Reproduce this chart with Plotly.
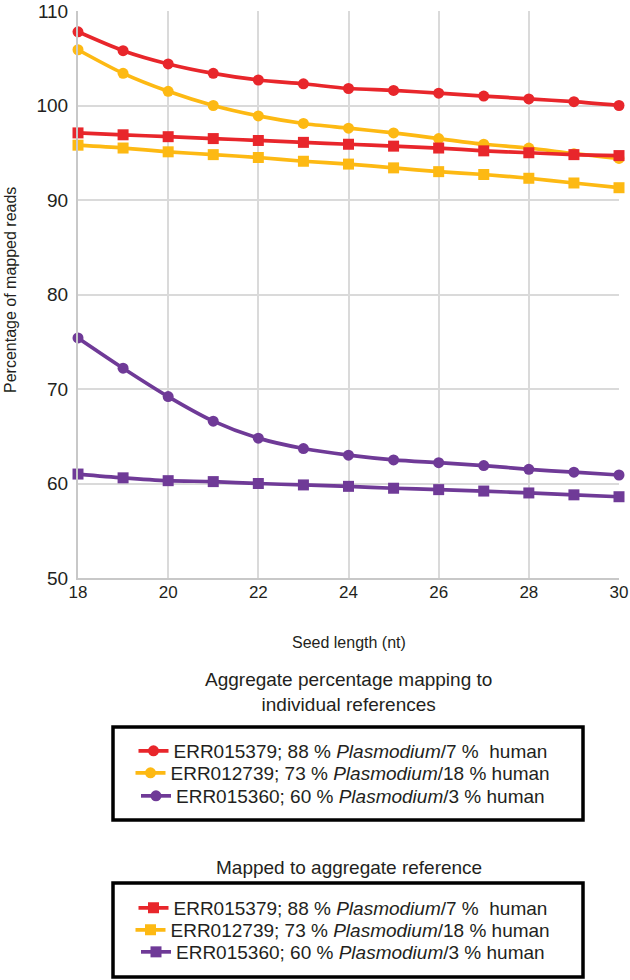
import plotly.graph_objects as go

seed = [18, 19, 20, 21, 22, 23, 24, 25, 26, 27, 28, 29, 30]

ind_red = [107.8, 105.8, 104.4, 103.4, 102.7, 102.3, 101.8, 101.6, 101.3, 101.0, 100.7, 100.4, 100.0]
ind_yellow = [105.9, 103.4, 101.5, 100.0, 98.9, 98.1, 97.6, 97.1, 96.5, 95.9, 95.5, 94.9, 94.4]
ind_purple = [75.4, 72.2, 69.2, 66.6, 64.8, 63.7, 63.0, 62.5, 62.2, 61.9, 61.5, 61.2, 60.9]

agg_red = [97.1, 96.9, 96.7, 96.5, 96.3, 96.1, 95.9, 95.7, 95.5, 95.2, 95.0, 94.8, 94.7]
agg_yellow = [95.8, 95.5, 95.1, 94.8, 94.5, 94.1, 93.8, 93.4, 93.0, 92.7, 92.3, 91.8, 91.3]
agg_purple = [61.0, 60.6, 60.3, 60.2, 60.0, 59.85, 59.7, 59.5, 59.35, 59.2, 59.0, 58.8, 58.6]

labels = [
    "ERR015379; 88 % <i>Plasmodium</i>/7 %\u00a0 human",
    "ERR012739; 73 % <i>Plasmodium</i>/18 % human",
    "ERR015360; 60 % <i>Plasmodium</i>/3 % human",
]

x_ticks = [18, 20, 22, 24, 26, 28, 30]
y_ticks = [50, 60, 70, 80, 90, 100, 110]

RED = "#E8262B"
YEL = "#FDB913"
PUR = "#6F3A97"
TXT = "#231F20"
FONT = "Liberation Sans, Arial, Helvetica, sans-serif"

L, R, T, B = 78, 11, 11, 402
W, H = 630, 980
pw = W - L - R
ph = H - T - B


def py(px):
    return (H - B - px) / ph


def pxx(px):
    return (px - L) / pw


fig = go.Figure()

legend_ids = ["legend", "legend2", "legend3", "legend4", "legend5", "legend6"]
row_y = [751, 773, 796, 908, 930, 952]

k = 0
for group, sym in [((ind_red, ind_yellow, ind_purple), "circle"),
                   ((agg_red, agg_yellow, agg_purple), "square")]:
    for vals, col, lab in zip(group, [RED, YEL, PUR], labels):
        fig.add_trace(go.Scatter(
            x=seed, y=vals, name=lab, mode="lines+markers",
            line=dict(color=col, width=3.7, shape="spline", smoothing=0.8),
            marker=dict(symbol=sym, size=11, color=col),
            cliponaxis=False, legend=legend_ids[k],
        ))
        k += 1

legend_common = dict(
    bgcolor="rgba(0,0,0,0)", borderwidth=0,
    font=dict(family=FONT, size=19, color=TXT),
    xanchor="center", x=pxx(343), yanchor="middle",
)

legend_layout = {lid: dict(y=py(yy), **legend_common) for lid, yy in zip(legend_ids, row_y)}

fig.update_layout(
    width=W, height=H,
    margin=dict(l=L, r=R, t=T, b=B, autoexpand=False),
    paper_bgcolor="white", plot_bgcolor="white",
    font=dict(family=FONT, color=TXT),
    showlegend=True,
    xaxis=dict(
        range=[18, 30], tickvals=x_ticks, ticktext=[str(v) for v in x_ticks],
        showgrid=True, gridcolor="#DADADA", gridwidth=1.5,
        showline=True, linecolor="#C8C8C8", linewidth=2,
        zeroline=False, ticks="", ticklabelstandoff=-2,
        tickfont=dict(family=FONT, size=17, color=TXT),
    ),
    yaxis=dict(
        range=[50, 110], tickvals=y_ticks, ticktext=[str(v) for v in y_ticks],
        showgrid=True, gridcolor="#DADADA", gridwidth=1.5,
        showline=True, linecolor="#C8C8C8", linewidth=2,
        zeroline=False, ticks="", ticklabelstandoff=4,
        tickfont=dict(family=FONT, size=19, color=TXT),
    ),
    shapes=[
        dict(type="rect", xref="paper", yref="paper",
             x0=pxx(113), x1=pxx(583), y0=py(727), y1=py(820),
             line=dict(color="black", width=3.5), fillcolor="rgba(0,0,0,0)"),
        dict(type="rect", xref="paper", yref="paper",
             x0=pxx(113), x1=pxx(583), y0=py(883), y1=py(977),
             line=dict(color="black", width=3.5), fillcolor="rgba(0,0,0,0)"),
    ],
    annotations=[
        dict(text="Seed length (nt)", xref="paper", yref="paper",
             x=0.5, y=py(642), xanchor="center", yanchor="middle", showarrow=False,
             font=dict(family=FONT, size=16, color=TXT)),
        dict(text="Percentage of mapped reads", xref="paper", yref="paper",
             x=pxx(10), y=py(290), xanchor="center", yanchor="middle", showarrow=False,
             textangle=-90, font=dict(family=FONT, size=16, color=TXT)),
        dict(text="Aggregate percentage mapping to<br>individual references", xref="paper", yref="paper",
             x=0.5, y=py(692), xanchor="center", yanchor="middle", showarrow=False,
             font=dict(family=FONT, size=19, color=TXT)),
        dict(text="Mapped to aggregate reference", xref="paper", yref="paper",
             x=0.5, y=py(868), xanchor="center", yanchor="middle", showarrow=False,
             font=dict(family=FONT, size=19, color=TXT)),
    ],
    **legend_layout,
)

fig.write_html("out.html", config={"displayModeBar": False},
               post_script="document.body.style.margin='0px';")
